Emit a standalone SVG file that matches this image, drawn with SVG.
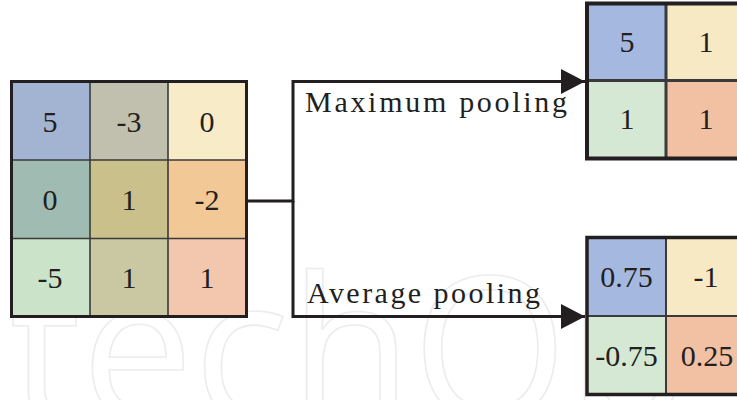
<svg xmlns="http://www.w3.org/2000/svg" width="737" height="400" viewBox="0 0 737 400">
  <style>
    .num { font-family: "Liberation Serif", "DejaVu Serif", serif; font-size: 30px; fill: #231f20; text-anchor: middle; }
    .lbl { font-family: "Liberation Serif", "DejaVu Serif", serif; font-size: 30px; fill: #231f20; }
    .frame { fill: none; stroke: #231f20; }
    .div { stroke: #3a3a3a; fill: none; }
    .wire { fill: none; stroke: #231f20; stroke-width: 3; }
    .wm { font-family: "Open Sans", "DejaVu Sans", sans-serif; font-size: 200px; fill: none; stroke: #ececec; stroke-width: 1.6; }
  </style>
  <defs>
    <marker id="head" markerUnits="userSpaceOnUse" markerWidth="26" markerHeight="26" refX="24" refY="12.5" orient="auto">
      <path d="M0,0 L24,12.5 L0,25 Z" fill="#231f20"/>
    </marker>
  </defs>

  <rect width="737" height="400" fill="#ffffff"/>

  <!-- background watermark lettering -->
  <g id="watermark">
    <text class="wm" x="10" y="420">techOp</text>
  </g>

  <!-- 3x3 input feature map -->
  <g id="input-map">
    <rect x="11.5" y="81.5" width="78.5" height="78.5" fill="#a3b4d3"/>
    <rect x="90" y="81.5" width="78" height="78.5" fill="#c1c0ae"/>
    <rect x="168" y="81.5" width="78.5" height="78.5" fill="#f8ecc8"/>
    <rect x="11.5" y="160" width="78.5" height="78.5" fill="#a0bcb2"/>
    <rect x="90" y="160" width="78" height="78.5" fill="#c9c08b"/>
    <rect x="168" y="160" width="78.5" height="78.5" fill="#f1c896"/>
    <rect x="11.5" y="238.5" width="78.5" height="78" fill="#cbe3c9"/>
    <rect x="90" y="238.5" width="78" height="78" fill="#cac8a3"/>
    <rect x="168" y="238.5" width="78.5" height="78" fill="#f3c6ae"/>
    <path class="div" stroke-width="1.6" d="M90,81.5 V316.5 M168,81.5 V316.5 M11.5,160 H246.5 M11.5,238.5 H246.5"/>
    <rect class="frame" x="11.5" y="81.5" width="235" height="235" stroke-width="3"/>
    <text class="num" x="50" y="132">5</text>
    <text class="num" x="129" y="132">-3</text>
    <text class="num" x="207" y="132">0</text>
    <text class="num" x="50" y="210">0</text>
    <text class="num" x="129" y="210">1</text>
    <text class="num" x="207" y="210">-2</text>
    <text class="num" x="50" y="288">-5</text>
    <text class="num" x="129" y="288">1</text>
    <text class="num" x="207" y="288">1</text>
  </g>

  <!-- 2x2 result of maximum pooling -->
  <g id="max-map">
    <rect x="587" y="3.5" width="79" height="77" fill="#a5b9e0"/>
    <rect x="666" y="3.5" width="80" height="77" fill="#f8e9c5"/>
    <rect x="587" y="80.5" width="79" height="78" fill="#d5e8d3"/>
    <rect x="666" y="80.5" width="80" height="78" fill="#f2c1a4"/>
    <path class="div" stroke-width="3" stroke="#231f20" d="M666,3.5 V158.5 M587,80.5 H746"/>
    <rect class="frame" x="587" y="3.5" width="160" height="155" stroke-width="4"/>
    <text class="num" x="627" y="52">5</text>
    <text class="num" x="706" y="52">1</text>
    <text class="num" x="627" y="129">1</text>
    <text class="num" x="706" y="129">1</text>
  </g>

  <!-- 2x2 result of average pooling -->
  <g id="avg-map">
    <rect x="587" y="237.5" width="79" height="78.5" fill="#a5b9e0"/>
    <rect x="666" y="237.5" width="80" height="78.5" fill="#f8e9c5"/>
    <rect x="587" y="316" width="79" height="79" fill="#d5e8d3"/>
    <rect x="666" y="316" width="80" height="79" fill="#f2c1a4"/>
    <path class="div" stroke-width="2" d="M666,237.5 V395 M587,316 H746"/>
    <rect class="frame" x="587" y="237.5" width="160" height="157" stroke-width="3.5"/>
    <text class="num" x="626.5" y="287">0.75</text>
    <text class="num" x="706" y="287">-1</text>
    <text class="num" x="626.5" y="366">-0.75</text>
    <text class="num" x="707" y="366">0.25</text>
  </g>

  <!-- branching connectors -->
  <g id="connectors">
    <path class="wire" d="M246.5,201 H293 V81.5 H585" marker-end="url(#head)"/>
    <path class="wire" d="M293,201 V316.5 H585" marker-end="url(#head)"/>
  </g>

  <g id="labels">
    <text class="lbl" x="305" y="112" textLength="262" lengthAdjust="spacing">Maximum pooling</text>
    <text class="lbl" x="307" y="303" textLength="233" lengthAdjust="spacing">Average pooling</text>
  </g>
</svg>
